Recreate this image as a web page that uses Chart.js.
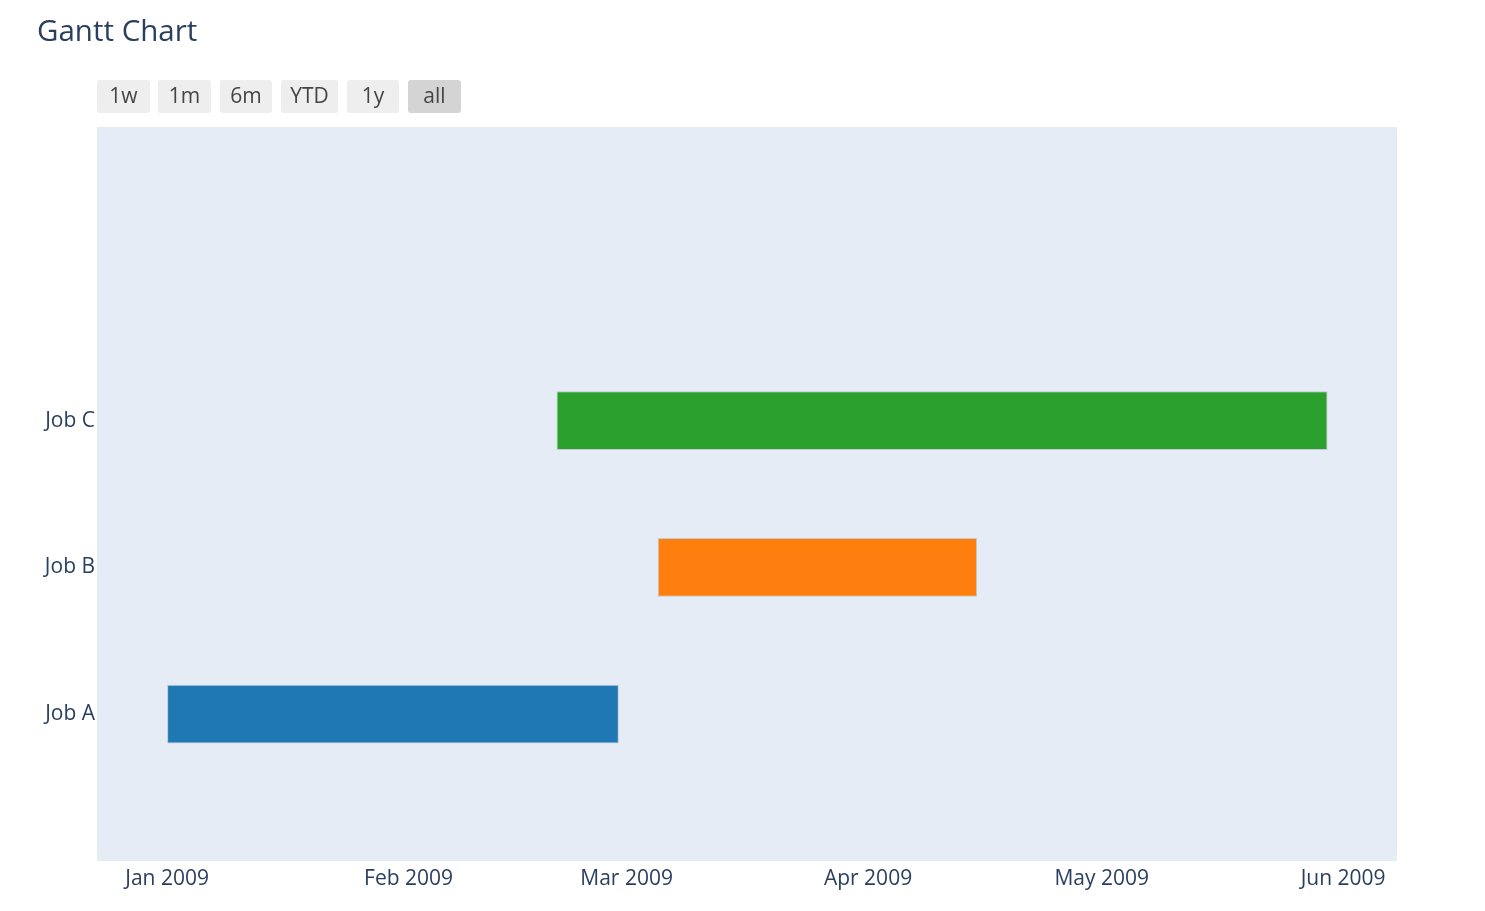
<!DOCTYPE html>
<html>
<head>
<meta charset="utf-8">
<script src="https://cdn.jsdelivr.net/npm/chart.js@4.4.1/dist/chart.umd.min.js"></script>
<style>
  html, body { margin: 0; padding: 0; background: #fff; }
  body { width: 1485px; height: 911px; position: relative; overflow: hidden; font-family: "Open Sans", sans-serif; }
  #title { position: absolute; left: 37px; top: 9px; font-size: 29.5px; color: #2a3f5f; white-space: nowrap; }
  .btn { position: absolute; top: 80px; height: 33px; background: #eeeeee; color: #444; border-radius: 3px;
         font-size: 21px; line-height: 30px; text-align: center; }
  .btn.active { background: #d4d4d4; }
  #wrap { position: absolute; left: 0; top: 0; width: 1485px; height: 911px; }
</style>
</head>
<body>
<div id="wrap"><canvas id="gantt"></canvas></div>
<div id="title">Gantt Chart</div>
<div id="buttons"></div>
<script>
  // data
  const jobs = ["Job A", "Job B", "Job C"];
  const startDates = ["2009-01-01", "2009-03-05", "2009-02-20"];
  const finishDates = ["2009-02-28", "2009-04-15", "2009-05-30"];
  const jobColors = ["#1f77b4", "#ff7f0e", "#2ca02c"];
  const tickDates = ["2009-01-01", "2009-02-01", "2009-03-01", "2009-04-01", "2009-05-01", "2009-06-01"];
  const tickLabels = ["Jan 2009", "Feb 2009", "Mar 2009", "Apr 2009", "May 2009", "Jun 2009"];
  const rangeButtons = ["1w", "1m", "6m", "YTD", "1y", "all"];

  const t = (s) => Date.parse(s + "T00:00:00Z");

  // range selector buttons (decoration, not interactive)
  const btnX = [97, 158, 220, 281, 347, 408];
  const btnW = [53, 53, 52, 57, 52, 53];
  const btnBox = document.getElementById("buttons");
  rangeButtons.forEach((b, i) => {
    const d = document.createElement("div");
    d.className = "btn" + (b === "all" ? " active" : "");
    d.style.left = btnX[i] + "px";
    d.style.width = btnW[i] + "px";
    d.textContent = b;
    btnBox.appendChild(d);
  });

  // y slots top to bottom, with empty padding slots like plotly's range
  const slots = ["", "", jobs[2], jobs[1], jobs[0], ""];
  const barData = slots.map((s) => {
    const i = jobs.indexOf(s);
    return i < 0 ? null : [t(startDates[i]), t(finishDates[i])];
  });
  const barColors = slots.map((s) => {
    const i = jobs.indexOf(s);
    return i < 0 ? "transparent" : jobColors[i];
  });

  const plotBg = {
    id: "plotBg",
    beforeDraw(chart) {
      const { ctx, chartArea: a } = chart;
      ctx.save();
      ctx.fillStyle = "#e5ecf6";
      ctx.fillRect(a.left, a.top, a.right - a.left, a.bottom - a.top);
      ctx.restore();
    }
  };

  const tickFont = { family: "'Open Sans', sans-serif", size: 21 };

  new Chart(document.getElementById("gantt"), {
    type: "bar",
    data: {
      labels: slots,
      datasets: [{
        data: barData,
        backgroundColor: barColors,
        borderColor: "rgba(190,200,205,0.9)",
        borderWidth: 1,
        borderSkipped: false,
        barPercentage: 0.4,
        categoryPercentage: 1.0
      }]
    },
    options: {
      indexAxis: "y",
      responsive: true,
      maintainAspectRatio: false,
      animation: false,
      layout: { padding: { left: 0, top: 127, right: 88, bottom: 0 } },
      plugins: { legend: { display: false }, tooltip: { enabled: false } },
      scales: {
        x: {
          type: "linear",
          min: Date.UTC(2008, 11, 23),
          max: Date.UTC(2009, 5, 7, 22),
          border: { display: false },
          grid: { display: false, drawTicks: false },
          afterBuildTicks: (s) => { s.ticks = tickDates.map((d) => ({ value: t(d) })); },
          afterFit: (s) => { s.height = 50; },
          ticks: {
            autoSkip: false,
            maxRotation: 0,
            padding: 5,
            color: "#2a3f5f",
            font: tickFont,
            callback: (v) => tickLabels[tickDates.map(t).indexOf(v)] || ""
          }
        },
        y: {
          type: "category",
          offset: false,
          border: { display: false },
          grid: { display: false, drawTicks: false },
          afterFit: (s) => { s.width = 97; },
          ticks: { padding: 2, color: "#2a3f5f", font: tickFont, autoSkip: false }
        }
      }
    },
    plugins: [plotBg]
  });
</script>
</body>
</html>
